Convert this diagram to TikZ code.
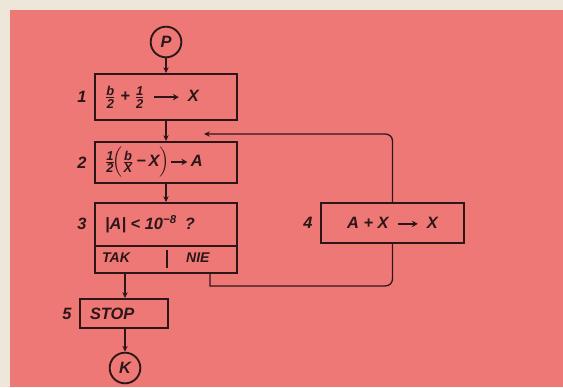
\documentclass[tikz,border=0pt]{standalone}
\usepackage{amsmath}
\usepackage{fontspec}
\setmainfont{Liberation Sans}
\usetikzlibrary{positioning,arrows.meta}

\definecolor{nen}{RGB}{238,120,118}
\definecolor{vien}{RGB}{238,230,216}
\definecolor{muc}{RGB}{45,22,24}

% Phân số và mũi tên đậm
\newcommand\phanso[2]{\genfrac{}{}{0.8pt}{1}{\text{\fontsize{11}{11}\selectfont #1}}{\text{\fontsize{11}{11}\selectfont #2}}}
\newcommand\muiten[1][0.6cm]{\tikz[baseline=-0.55ex]\draw[muc, line width=1.6pt, -{Stealth[length=5pt,width=5.5pt]}] (0cm,0cm) -- (#1,0cm);}

\tikzset{
  khoi/.style={draw=muc, line width=1.6pt, inner xsep=0.3cm, inner ysep=0pt, align=left},
  tron/.style={circle, draw=muc, line width=1.6pt, minimum size=0.92cm, inner sep=0pt},
  noi/.style={draw=muc, line width=1.1pt, -{Stealth[length=5pt,width=4.5pt]}},
  lap/.style={draw=muc, line width=1.1pt},
}

\begin{document}
\begin{tikzpicture}[x=0.03cm, y=-0.03cm, font=\bfseries\itshape\fontsize{14}{16}\selectfont, text=muc]

% Nền
\fill[vien] (0,0) rectangle (563,387);
\fill[nen] (10,10) rectangle (563,387);
\useasboundingbox (0,0) rectangle (563,387);

% Điểm đầu và điểm cuối
\node[tron] (p) at (166,42) {P};
\node[tron] (k) at (125,368) {K};

% Các khối
\node[khoi, minimum height=1.38cm, text width=3.66cm] (op1) at (166,97)
  {$\phanso{b}{2}\;\text{+}\;\phanso{1}{2}$\enspace\muiten[0.75cm]\enspace X};
\node[khoi, minimum height=1.23cm, text width=3.66cm] (op2) at (166,162.5)
  {$\phanso{1}{2}\!\Bigl(\phanso{b}{X}\text{\,−\,X}\Bigr)$\muiten[0.5cm]\,A};
\node[khoi, minimum height=2.1cm, text width=3.66cm] (op3) at (166,238) {};
\node[khoi, minimum height=1.2cm, text width=3.69cm, align=center] (op4) at (392.5,223)
  {A\;+\;X\enspace\muiten\enspace X};
\node[khoi, minimum height=0.87cm, text width=2.04cm] (stop) at (124,313.5) {STOP};

% Chữ trong khối 3
\node[anchor=west] (q3) at (101,224) {|A|\;<\;10$^{\text{−8}}$\enspace ?};
\node[anchor=west, font=\bfseries\itshape\fontsize{12}{14}\selectfont] (tak) at (98,258) {TAK};
\node[anchor=west, font=\bfseries\itshape\fontsize{12}{14}\selectfont] (nie) at (182,258) {NIE};
\coordinate (d) at (0,246);
\draw[line width=1.4pt, muc] (op3.west |- d) -- (op3.east |- d);
\draw[line width=1.4pt, muc] (167,250) -- (167,268);

% Số thứ tự
\node[left=0.1cm of op1] (n1) {1};
\node[left=0.1cm of op2] (n2) {2};
\coordinate (g3) at (op3.west |- q3);
\node[left=0.1cm of g3] (n3) {3};
\node[left=0.1cm of op4] (n4) {4};
\node[left=0.1cm of stop] (n5) {5};

% Mũi tên
\draw[noi] (p) -- (op1);
\draw[noi] (op1) -- (op2);
\draw[noi] (op2) -- (op3);
\draw[noi] (op3.south -| k) -- (stop.north -| k);
\draw[noi] (stop.south -| k) -- (k);

% Vòng lặp
\coordinate (r) at (210,0);
\coordinate (vao) at (204,134);
\draw[lap] (op3.south -| r) -- ++(0,12) [rounded corners=6pt] -| (op4.south);
\draw[noi, rounded corners=6pt] (op4.north) |- (vao);

\end{tikzpicture}
\end{document}
